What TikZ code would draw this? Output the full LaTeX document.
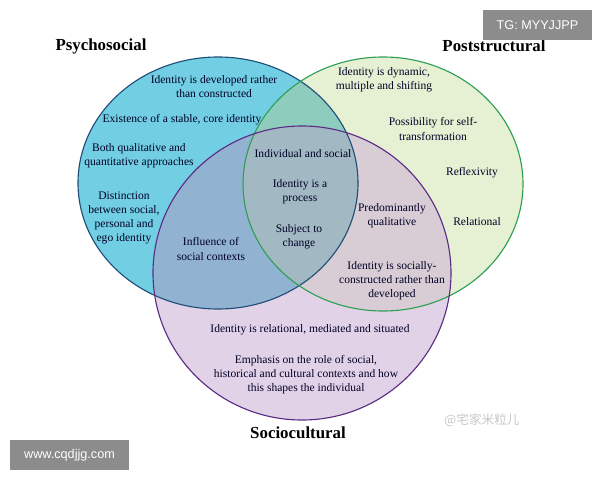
\documentclass[tikz,border=0pt]{standalone}
\usepackage{fontspec}
\setmainfont{Liberation Serif}
\newfontfamily\sansfont{Liberation Sans}
\newfontfamily\cjk{Noto Sans CJK SC}
\definecolor{psyfill}{HTML}{72CEE2}
\definecolor{psyline}{HTML}{1F4E79}
\definecolor{postfill}{HTML}{E6F0D2}
\definecolor{postline}{HTML}{2EA055}
\definecolor{socfill}{HTML}{E2D2E8}
\definecolor{socline}{HTML}{5B2C86}
\definecolor{psypost}{HTML}{8ECDBE}
\definecolor{psysoc}{HTML}{92B2D2}
\definecolor{postsoc}{HTML}{D8CDD4}
\definecolor{allthree}{HTML}{A2B8C2}
\tikzset{
    setname/.style = {font=\bfseries\fontsize{12}{14}\selectfont, text=black},
    item/.style = {align=center, font=\fontsize{8.2}{10}\selectfont, text=black!85!blue, inner sep=1pt},
    wmark/.style = {fill=black!45, text=white, font=\sansfont\fontsize{9}{11}\selectfont, inner sep=0pt, minimum height=0.75cm}
}
\newcommand\psyset{(218,183) ellipse [x radius=140, y radius=126]}
\newcommand\postset{(383,184) ellipse [x radius=140, y radius=127]}
\newcommand\socset{(302,273) ellipse [x radius=149, y radius=147]}
\begin{document}
\begin{tikzpicture}[x=0.025cm, y=-0.025cm]
\useasboundingbox (0,0) rectangle (600,480);
\fill[white] (0,0) rectangle (600,480);
% the three sets and their overlaps
\fill[psyfill] \psyset;
\fill[postfill] \postset;
\fill[socfill] \socset;
\begin{scope}
  \clip \psyset;
  \fill[psypost] \postset;
  \fill[psysoc] \socset;
\end{scope}
\begin{scope}
  \clip \postset;
  \fill[postsoc] \socset;
  \clip \socset;
  \fill[allthree] \psyset;
\end{scope}
\draw[psyline, thick] \psyset;
\draw[postline, thick] \postset;
\draw[socline, thick] \socset;
% set names
\node (psy) [setname] at (101,46) {Psychosocial};
\node (post) [setname] at (494,46) {Poststructural};
\node (soc) [setname] at (298,433) {Sociocultural};
% psychosocial only
\node (developed) [item] at (214,87) {Identity is developed rather\\than constructed};
\node (stable) [item] at (182,120) {Existence of a stable, core identity};
\node (both) [item] at (139,156) {Both qualitative and\\quantitative approaches};
\node (distinct) [item] at (124,218) {Distinction\\between social,\\personal and\\ego identity};
% overlaps
\node (influence) [item] at (211,249) {Influence of\\social contexts};
\node (indiv) [item] at (303,154) {Individual and social};
\node (process) [item] at (300,192) {Identity is a\\process};
\node (change) [item] at (299,237) {Subject to\\change};
\node (qualit) [item] at (392,216) {Predominantly\\qualitative};
\node (constructed) [item] at (392,281) {Identity is socially-\\constructed rather than\\developed};
% poststructural only
\node (dynamic) [item] at (384,80) {Identity is dynamic,\\multiple and shifting};
\node (selftrans) [item] at (433,129) {Possibility for self-\\transformation};
\node (reflex) [item] at (472,173) {Reflexivity};
\node (relat) [item] at (477,222) {Relational};
% sociocultural only
\node (situated) [item] at (310,330) {Identity is relational, mediated and situated};
\node (emphasis) [item] at (306,375) {Emphasis on the role of social,\\historical and cultural contexts and how\\this shapes the individual};
% watermarks
\node (tg) [wmark, minimum width=2.725cm] at (537.5,25) {TG: MYYJJPP};
\node (www) [wmark, minimum width=2.975cm] at (69.5,455) {www.cqdjjg.com};
\node (cn) [text=black!22, font=\cjk\fontsize{9}{11}\selectfont] at (482,420) {@宅家米粒儿};
\end{tikzpicture}
\end{document}
